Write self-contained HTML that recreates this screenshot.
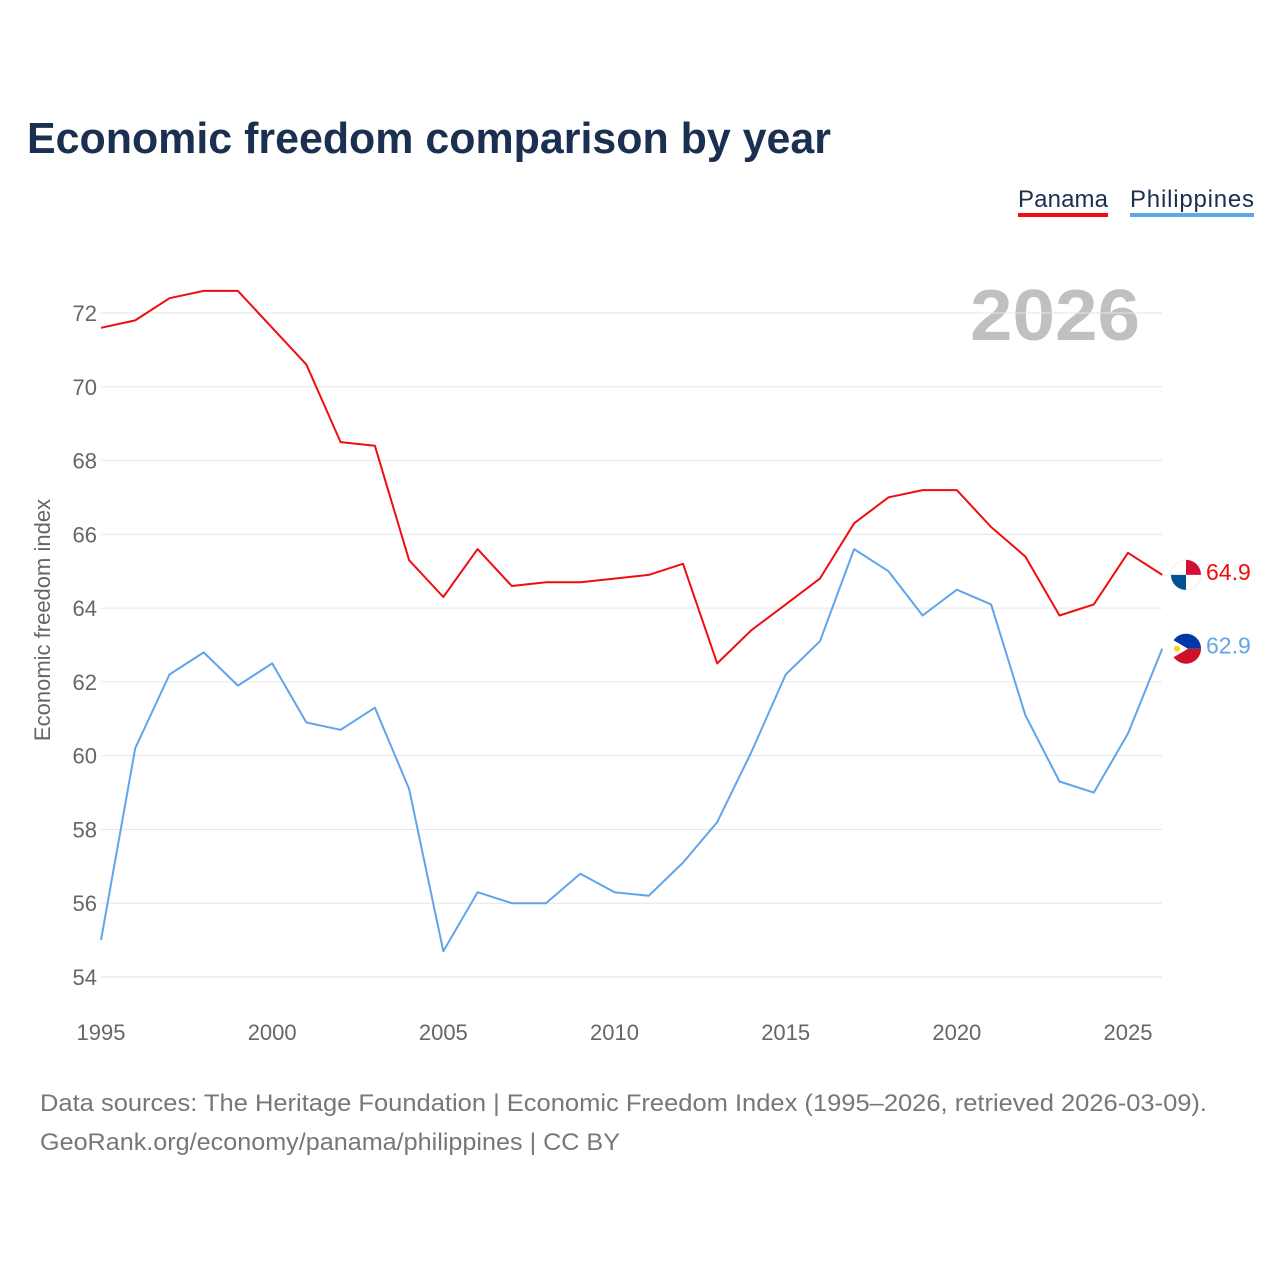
<!DOCTYPE html>
<html><head><meta charset="utf-8"><style>
body{margin:0;background:#fff;font-family:"Liberation Sans",sans-serif;}
#wrap{position:relative;width:1280px;height:1280px;overflow:hidden;}
</style></head><body>
<div id="wrap">
<svg id="chart" width="1280" height="1280" style="position:absolute;left:0;top:0">
<text x="27" y="153" font-size="44" font-weight="bold" fill="#1b2f50" textLength="804" lengthAdjust="spacingAndGlyphs">Economic freedom comparison by year</text>
<g>
<text x="1018" y="207" font-size="24" fill="#1b2f50" textLength="90">Panama</text>
<rect x="1018" y="213" width="90" height="4" fill="#f00d0d"/>
<text x="1130" y="207" font-size="24" fill="#1b2f50" textLength="124">Philippines</text>
<rect x="1130" y="213" width="124" height="4" fill="#5fa5ea"/>
</g>
<text x="970" y="340" font-size="72" font-weight="bold" fill="#c0c0c0" textLength="170" lengthAdjust="spacingAndGlyphs">2026</text>
<g id="grid"></g><g id="lines"></g>
<text transform="translate(50,620) rotate(-90)" font-size="22" fill="#666" text-anchor="middle">Economic freedom index</text>
<text x="40" y="1111" font-size="24" fill="#777" textLength="1167" lengthAdjust="spacingAndGlyphs">Data sources: The Heritage Foundation | Economic Freedom Index (1995–2026, retrieved 2026-03-09).</text>
<text x="40" y="1150" font-size="24" fill="#777" textLength="580" lengthAdjust="spacingAndGlyphs">GeoRank.org/economy/panama/philippines | CC BY</text>
</svg>
</div>
<script>
const years=[1995,1996,1997,1998,1999,2000,2001,2002,2003,2004,2005,2006,2007,2008,2009,2010,2011,2012,2013,2014,2015,2016,2017,2018,2019,2020,2021,2022,2023,2024,2025,2026];
const panama=[71.6,71.8,72.4,72.6,72.6,71.6,70.6,68.5,68.4,65.3,64.3,65.6,64.6,64.7,64.7,64.8,64.9,65.2,62.5,63.4,64.1,64.8,66.3,67.0,67.2,67.2,66.2,65.4,63.8,64.1,65.5,64.9];
const philippines=[55.0,60.2,62.2,62.8,61.9,62.5,60.9,60.7,61.3,59.1,54.7,56.3,56.0,56.0,56.8,56.3,56.2,57.1,58.2,60.1,62.2,63.1,65.6,65.0,63.8,64.5,64.1,61.1,59.3,59.0,60.6,62.9];
const yTicks=[54,56,58,60,62,64,66,68,70,72];
const xTicks=[1995,2000,2005,2010,2015,2020,2025];
const NS="http://www.w3.org/2000/svg";
const x=v=>101+(v-1995)*(1128-101)/30;
const y=v=>977-(v-54)*(977-313)/18;
function mk(t,a,p){const e=document.createElementNS(NS,t);for(const k in a)e.setAttribute(k,a[k]);p.appendChild(e);return e;}
const g=document.getElementById('grid'),L=document.getElementById('lines');
yTicks.forEach(t=>{
 const l=mk('line',{x1:101,x2:1162,y1:y(t),y2:y(t),stroke:'#e6e6e6','stroke-width':1},g);
 
 
 const tx=mk('text',{x:97,y:y(t)+8,'font-size':22,fill:'#666','text-anchor':'end'},g);tx.textContent=t;
 
 
});
xTicks.forEach(t=>{
 const tx=mk('text',{x:x(t),y:1040,'font-size':22,fill:'#666','text-anchor':'middle'},g);tx.textContent=t;
 
 
});
function series(vals,color,name){
 const p=mk('path',{d:vals.map((v,i)=>(i?'L':'M')+x(years[i]).toFixed(1)+','+y(v).toFixed(1)).join(''),fill:'none',stroke:color,'stroke-width':2,'stroke-linejoin':'round'},L);
 
 
 const last=vals[vals.length-1],cy=y(last),cx=1186;
 const c=mk('circle',{cx:cx,cy:cy,r:15,fill:'#fff',stroke:'#eee','stroke-width':1},L);
 
 
 if(name==='panama'){
  mk('path',{d:`M${cx},${cy-15}A15,15 0 0 1 ${cx+15},${cy}L${cx},${cy}Z`,fill:'#d21034'},L);
  mk('path',{d:`M${cx},${cy+15}A15,15 0 0 1 ${cx-15},${cy}L${cx},${cy}Z`,fill:'#005293'},L);
 }else{
  mk('path',{d:`M${cx-15},${cy}A15,15 0 0 1 ${cx+15},${cy}Z`,fill:'#0038a8'},L);
  mk('path',{d:`M${cx-15},${cy}A15,15 0 0 0 ${cx+15},${cy}Z`,fill:'#ce1126'},L);
  mk('path',{d:`M${cx-15},${cy-10}L${cx+2},${cy}L${cx-15},${cy+10}Z`,fill:'#fff'},L);
  mk('circle',{cx:cx-9,cy:cy,r:3,fill:'#fcd116'},L);
 }
 const t=mk('text',{x:1206,y:cy+5,'font-size':23,fill:color},L);t.textContent=last.toFixed(1);
 
 
}
series(panama,'#f00d0d','panama');
series(philippines,'#5fa5ea','philippines');
</script>
</body></html>
